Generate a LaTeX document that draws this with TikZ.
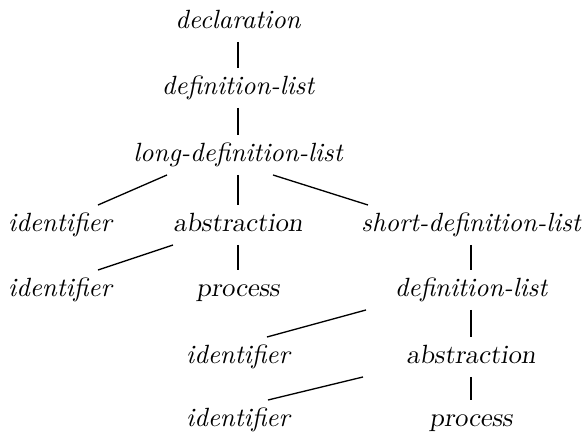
\documentclass[tikz,border=0pt]{standalone}
\usetikzlibrary{calc}

\tikzset{every picture/.style={line width=0.75pt}}

\begin{document}
\begin{tikzpicture}[x=0.379pt,y=0.379pt,yscale=-1,xscale=1,
	lbl/.style={inner xsep=0pt,inner ysep=2.7pt,text height=7pt,text depth=2pt,font=\itshape},
	slbl/.style={lbl,font=\slshape},
	thickedge/.style={line width=1.1pt},
	thinedge/.style={line width=0.7pt},
	slantedge/.style={line width=0.5pt}]
	%set diagram size
	\useasboundingbox (0,0) rectangle (585,433);

	% Text Node
	\draw (238,22) node [lbl] (decl) {declaration};
	% Text Node
	\draw (238,88) node [lbl] (dlA) {definition-list};
	% Text Node
	\draw (238,155) node [lbl] (ldl) {long-definition-list};
	% Text Node
	\draw (60,225) node [lbl] (idA) {identifier};
	% Text Node
	\draw (238,225) node [slbl] (absA) {abstraction};
	% Text Node
	\draw (471,225) node [lbl] (sdl) {short-definition-list};
	% Text Node
	\draw (60,290) node [lbl] (idB) {identifier};
	% Text Node
	\draw (238,290) node [slbl] (procA) {process};
	% Text Node
	\draw (471,290) node [lbl] (dlB) {definition-list};
	% Text Node
	\draw (238,357) node [lbl] (idC) {identifier};
	% Text Node
	\draw (471,357) node [slbl] (absB) {abstraction};
	% Text Node
	\draw (238,420) node [lbl] (idD) {identifier};
	% Text Node
	\draw (471,420) node [slbl] (procB) {process};

	%Straight Lines
	\draw [thickedge] (decl) -- (dlA);
	%Straight Lines
	\draw [thickedge] (dlA) -- (ldl);
	%Straight Lines
	\draw [slantedge] ($(ldl.south)+(-71,0)$) -- ($(idA.north)+(38,0)$);
	%Straight Lines
	\draw [thickedge] (ldl) -- (absA);
	%Straight Lines
	\draw [slantedge] ($(ldl.south)+(35,0)$) -- ($(sdl.north)+(-103,0)$);
	%Straight Lines
	\draw [slantedge] ($(absA.south)+(-65,0)$) -- ($(idB.north)+(38,0)$);
	%Straight Lines
	\draw [thickedge] (absA) -- (procA);
	%Straight Lines
	\draw [thinedge] (sdl) -- (dlB);
	%Straight Lines
	\draw [slantedge] ($(dlB.south)+(-105,0)$) -- ($(idC.north)+(29,0)$);
	%Straight Lines
	\draw [thinedge] (dlB) -- (absB);
	%Straight Lines
	\draw [slantedge] ($(absB.south)+(-108,0)$) -- ($(idD.north)+(30,0)$);
	%Straight Lines
	\draw [thinedge] (absB) -- (procB);

\end{tikzpicture}
\end{document}
